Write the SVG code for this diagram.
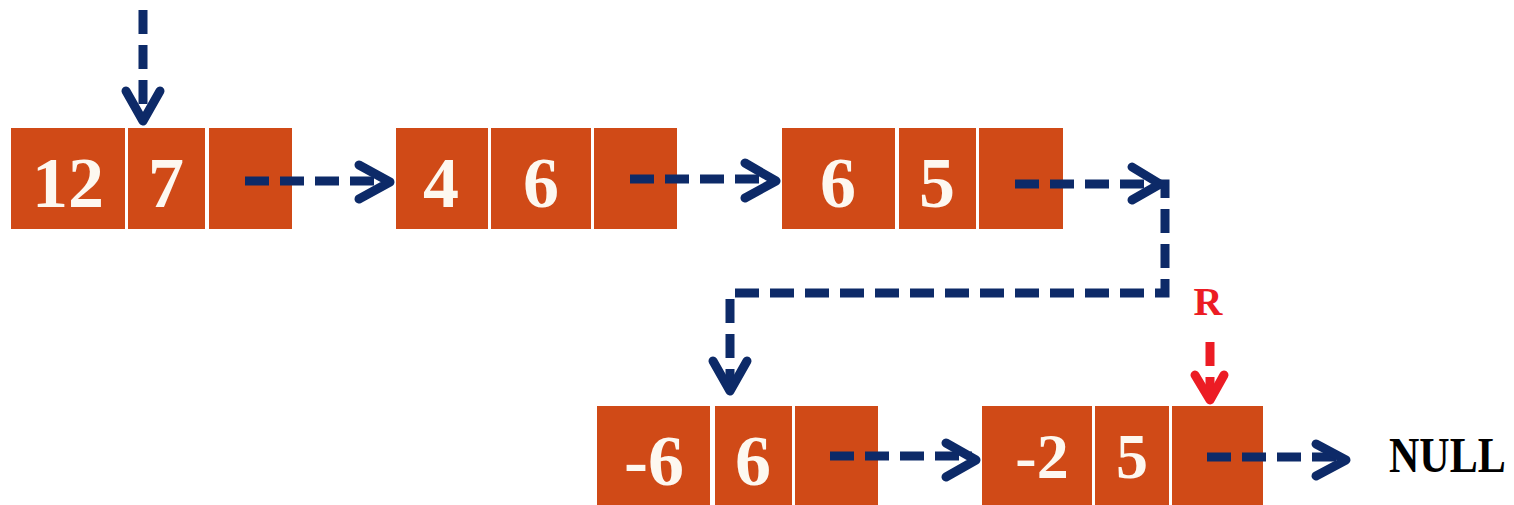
<svg xmlns="http://www.w3.org/2000/svg" width="1514" height="505" viewBox="0 0 1514 505">
<style>
.cell{fill:#d04a17}
.num{font-family:"Liberation Serif","Times New Roman",serif;font-weight:bold;fill:#fdf8f0;text-anchor:middle}
.dash{fill:none;stroke:#0d2a68;stroke-width:9;stroke-dasharray:24 11}
.head{fill:none;stroke:#0d2a68;stroke-width:9;stroke-linecap:round;stroke-linejoin:round}
.red{stroke:#ec1c24}
</style>
<rect width="1514" height="505" fill="#ffffff"/>
<g id="node1">
<rect class="cell" x="11" y="128" width="114" height="101"/>
<rect class="cell" x="128" y="128" width="77" height="101"/>
<rect class="cell" x="209" y="128" width="83" height="101"/>
<text class="num" x="68" y="207" font-size="72">12</text>
<text class="num" x="166" y="207" font-size="72">7</text>
</g>
<g id="node2">
<rect class="cell" x="396" y="128" width="92" height="101"/>
<rect class="cell" x="491" y="128" width="100" height="101"/>
<rect class="cell" x="594" y="128" width="83" height="101"/>
<text class="num" x="441" y="207" font-size="72">4</text>
<text class="num" x="541" y="207" font-size="72">6</text>
</g>
<g id="node3">
<rect class="cell" x="782" y="128" width="113" height="101"/>
<rect class="cell" x="899" y="128" width="77" height="101"/>
<rect class="cell" x="979" y="128" width="84" height="101"/>
<text class="num" x="838" y="207" font-size="72">6</text>
<text class="num" x="937" y="207" font-size="72">5</text>
</g>
<g id="node4">
<rect class="cell" x="597" y="406" width="113" height="99"/>
<rect class="cell" x="715" y="406" width="77" height="99"/>
<rect class="cell" x="795" y="406" width="83" height="99"/>
<text class="num" x="654" y="485" font-size="72">-6</text>
<text class="num" x="753" y="485" font-size="72">6</text>
</g>
<g id="node5">
<rect class="cell" x="982" y="406" width="110" height="99"/>
<rect class="cell" x="1095" y="406" width="74" height="99"/>
<rect class="cell" x="1172" y="406" width="91" height="99"/>
<text class="num" x="1042" y="478" font-size="64">-2</text>
<text class="num" x="1132" y="478" font-size="64">5</text>
</g>
<g id="labels">
<text x="1208" y="315" font-family="Liberation Serif,serif" font-weight="bold" font-size="40" fill="#ec1c24" text-anchor="middle">R</text>
<text transform="translate(1389,472) scale(1,1.2)" font-family="Liberation Serif,serif" font-weight="bold" font-size="42" fill="#000000">NULL</text>
</g>
<g id="connectors">
<path class="dash" d="M143 10 V118"/>
<path class="head" d="M126 91 L143 121 L160 91"/>
<path class="dash" d="M245 181 H386"/>
<path class="head" d="M359 165 L390 182 L359 199"/>
<path class="dash" d="M630 179 H772"/>
<path class="head" d="M745 163 L776 181 L745 198"/>
<path class="dash" d="M1015 184 H1165 V293 H730 V388"/>
<path class="head" d="M1132 167 L1160 184 L1132 200"/>
<path class="head" d="M713 361 L730 391 L747 361"/>
<path class="dash" d="M830 456 H972"/>
<path class="head" d="M946 443 L976 460 L946 477"/>
<path class="dash" d="M1207 457 H1342"/>
<path class="head" d="M1316 444 L1346 460 L1316 476"/>
<path class="dash red" d="M1210 342 V398" stroke-dasharray="25 30"/>
<path class="head red" d="M1195 375 L1210 400 L1224 375"/>
</g>
</svg>
